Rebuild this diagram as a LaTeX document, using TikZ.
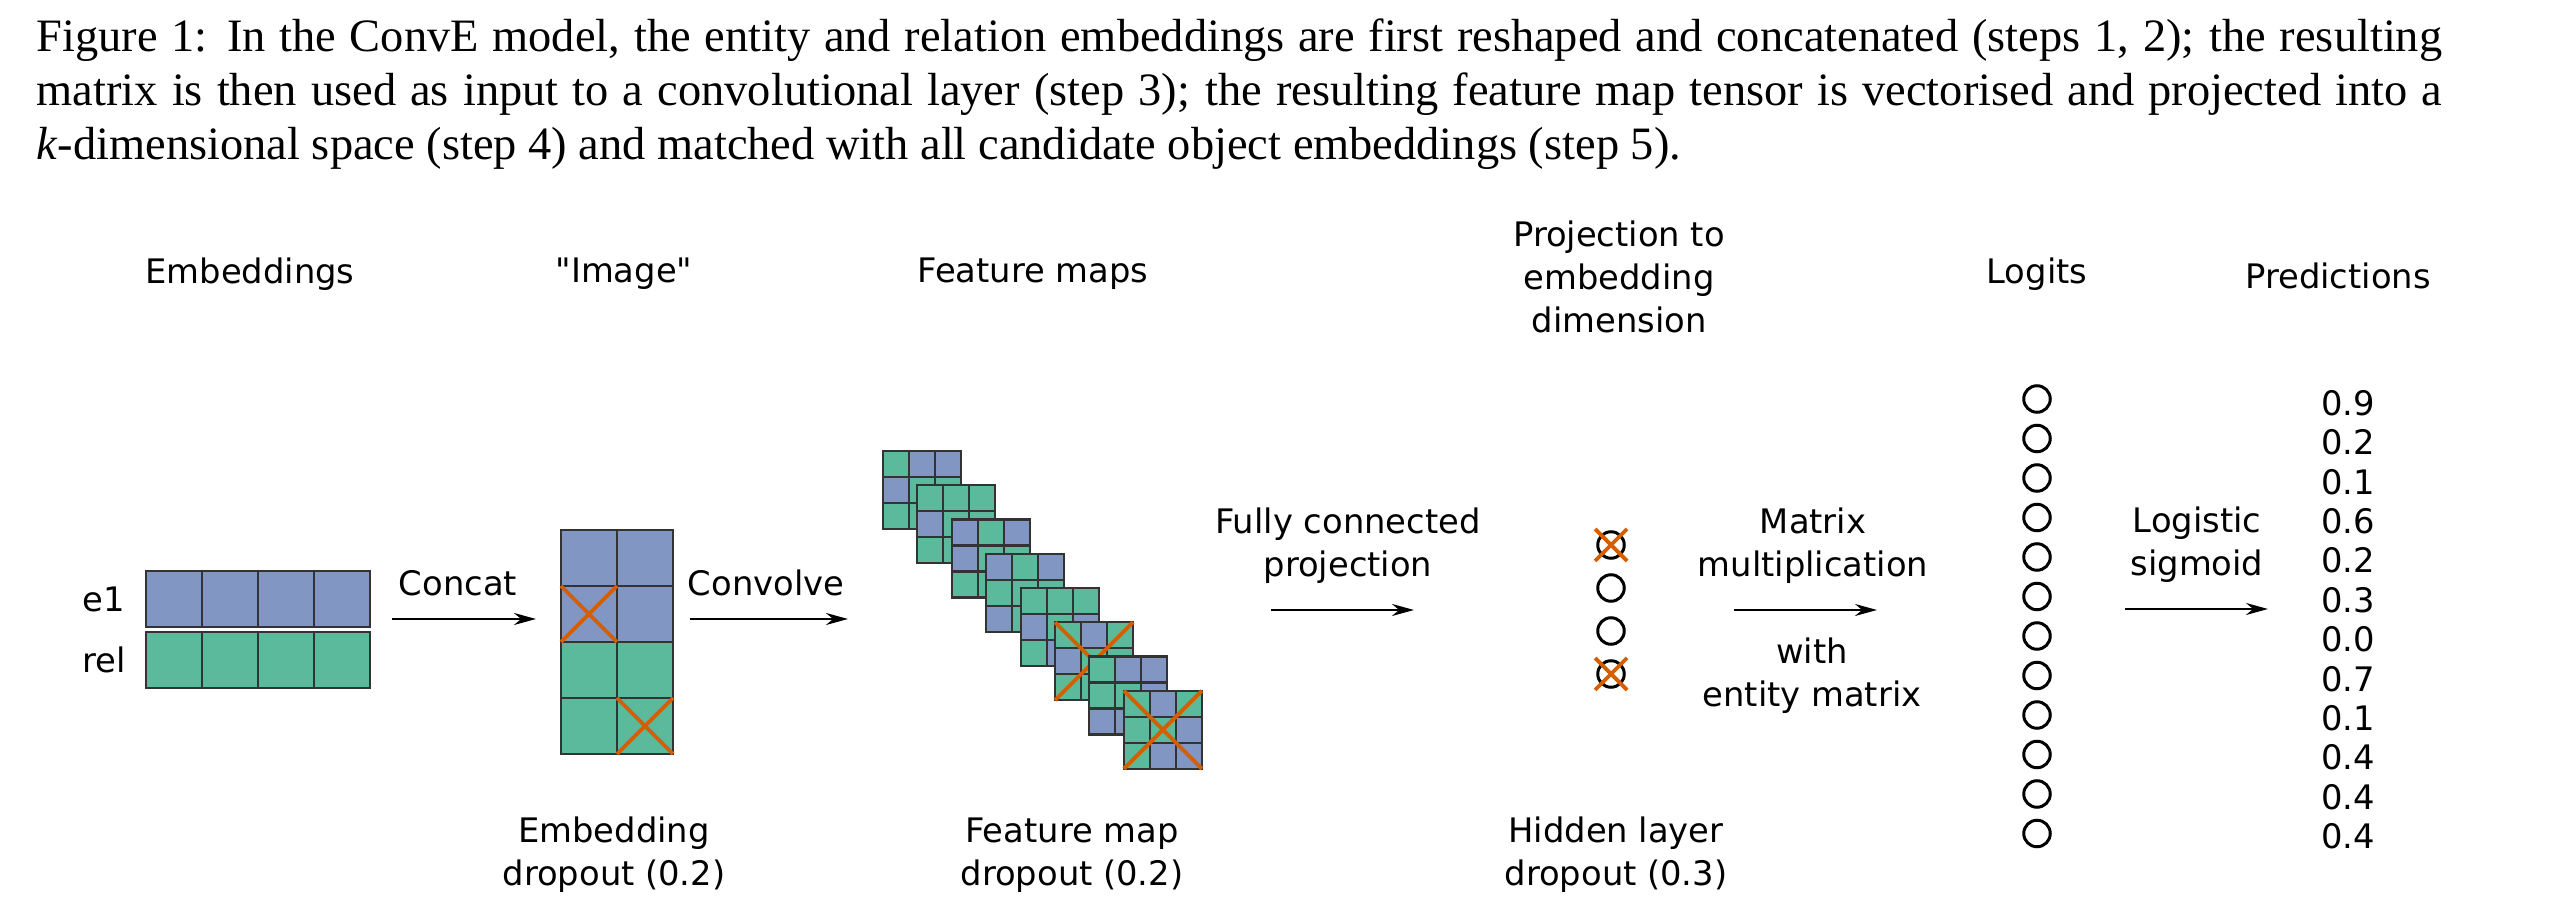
\documentclass[tikz,border=0pt]{standalone}
\usepackage{fontspec}
\setmainfont{DejaVu Sans}
\newfontfamily\capfont{Liberation Serif}
\usetikzlibrary{arrows.meta}

\definecolor{cb}{RGB}{130,150,195}
\definecolor{cg}{RGB}{90,186,155}
\definecolor{dropred}{RGB}{213,94,0}

% straight double quote, set as a glyph so no ligature mapping curls it
\newcommand\straightquote{\XeTeXglyph\XeTeXcharglyph"22\relax}

\tikzset{
  lbl/.style={font=\fontsize{9.6pt}{12.2pt}\selectfont, align=center, inner sep=0pt},
  capline/.style={anchor=base west, inner sep=0pt, font=\capfont\fontsize{13.2pt}{15.4pt}\selectfont},
  flow/.style={-{Stealth[length=0.22cm,width=0.12cm]}, line width=0.55pt},
  gridline/.style={draw=black!80, line width=0.6pt},
  drop/.style={draw=dropred, line width=1.1pt},
  unit/.style={circle, draw, line width=0.85pt, minimum size=0.265cm, inner sep=0pt},
}

% one row of a 3x3 feature map: #1 map index, #2 row index, #3 colours
\newcommand\fmrow[3]{%
  \foreach[count=\j from 0] \c in {#3}{%
    \filldraw[gridline, fill=\c] ({883+34.4*#1+26*\j},{451+34.25*#1+26*#2}) rectangle ++(26,26);}}
% dropout cross over a whole feature map
\newcommand\fmcross[1]{%
  \draw[drop] ({883+34.4*#1},{451+34.25*#1}) -- ++(78,78);
  \draw[drop] ({883+34.4*#1+78},{451+34.25*#1}) -- ++(-78,78);}

\begin{document}
\begin{tikzpicture}[x=0.01cm, y=-0.01cm]
\useasboundingbox (0,0) rectangle (2556,922);

% caption
\node[capline] (cap1) at (36,52) {\makebox[24.04cm][s]{Figure 1: In the ConvE model, the entity and relation embeddings are first reshaped and concatenated (steps 1, 2); the resulting}};
\node[capline] (cap2) at (36,106) {\makebox[24.04cm][s]{matrix is then used as input to a convolutional layer (step 3); the resulting feature map tensor is vectorised and projected into a}};
\node[capline] (cap3) at (36,160) {\textit{k}-dimensional space (step 4) and matched with all candidate object embeddings (step 5).};

% column headers
\node[lbl] (hEmb) at (250,274) {Embeddings};
\node[lbl] (hImg) at (624,274) {\straightquote Image\straightquote};
\node[lbl] (hFM) at (1033,274) {Feature maps};
\node[lbl] (hProj) at (1619,277) {Projection to\\embedding\\dimension};
\node[lbl] (hLog) at (2037,274) {Logits};
\node[lbl] (hPred) at (2338,276) {Predictions};

% embeddings
\node[lbl] (le1) at (104,599) {e1};
\node[lbl] (lrel) at (104,660) {rel};
\foreach \i in {0,...,3}{
  \filldraw[gridline, fill=cb] ({146+56*\i},571) rectangle ++(56,56);
  \filldraw[gridline, fill=cg] ({146+56*\i},632) rectangle ++(56,56);
}

% concat arrow
\node[lbl] (tConcat) at (458,583) {Concat};
\coordinate (a1s) at (392,619);
\coordinate (a1e) at (536,619);
\draw[flow] (a1s) -- (a1e);

% reshaped "image"
\foreach \r/\c in {0/cb,1/cb,2/cg,3/cg}{
  \foreach \j in {0,1}{
    \filldraw[gridline, fill=\c] ({561+56*\j},{530+56*\r}) rectangle ++(56,56);
  }
}
\draw[drop] (561,586) -- (617,642);
\draw[drop] (617,586) -- (561,642);
\draw[drop] (617,698) -- (673,754);
\draw[drop] (673,698) -- (617,754);

% convolve arrow
\node[lbl] (tConv) at (766,583) {Convolve};
\coordinate (a2s) at (690,619);
\coordinate (a2e) at (848,619);
\draw[flow] (a2s) -- (a2e);

% feature maps
\fmrow{0}{0}{cg,cb,cb}\fmrow{0}{1}{cb,cg,cg}\fmrow{0}{2}{cg,cg,cg}
\fmrow{1}{0}{cg,cg,cg}\fmrow{1}{1}{cb,cg,cg}\fmrow{1}{2}{cg,cg,cg}
\fmrow{2}{0}{cb,cg,cb}\fmrow{2}{1}{cb,cg,cg}\fmrow{2}{2}{cg,cg,cg}
\fmrow{3}{0}{cb,cg,cb}\fmrow{3}{1}{cg,cg,cg}\fmrow{3}{2}{cb,cg,cg}
\fmrow{4}{0}{cg,cg,cg}\fmrow{4}{1}{cb,cg,cb}\fmrow{4}{2}{cg,cb,cb}
\fmrow{5}{0}{cg,cb,cg}\fmrow{5}{1}{cb,cg,cg}\fmrow{5}{2}{cg,cg,cg}
\fmcross{5}
\fmrow{6}{0}{cg,cb,cb}\fmrow{6}{1}{cg,cg,cb}\fmrow{6}{2}{cb,cb,cb}
\fmrow{7}{0}{cg,cb,cg}\fmrow{7}{1}{cg,cg,cb}\fmrow{7}{2}{cg,cb,cb}
\fmcross{7}

% fully connected projection
\node[lbl] (tFC) at (1348,546) {Fully connected\\projection};
\coordinate (a3s) at (1271,610);
\coordinate (a3e) at (1414,610);
\draw[flow] (a3s) -- (a3e);

% hidden layer
\foreach \i/\y in {1/545,2/588,3/631,4/674}{
  \node[unit] (h\i) at (1611,\y) {};
}
\foreach \i in {1,4}{
  \draw[drop] ([shift={(-16,-16)}]h\i.center) -- ([shift={(16,16)}]h\i.center);
  \draw[drop] ([shift={(16,-16)}]h\i.center) -- ([shift={(-16,16)}]h\i.center);
}

% matrix multiplication
\node[lbl] (tMM) at (1813,546) {Matrix\\multiplication};
\node[lbl] (tWith) at (1812,676) {with\\entity matrix};
\coordinate (a4s) at (1734,610);
\coordinate (a4e) at (1877,610);
\draw[flow] (a4s) -- (a4e);

% logits
\foreach \i in {0,...,11}{
  \node[unit] (lg\i) at (2037,{399+39.5*\i}) {};
}

% sigmoid
\node[lbl] (tSig) at (2197,545) {Logistic\\sigmoid};
\coordinate (a5s) at (2125,609);
\coordinate (a5e) at (2268,609);
\draw[flow] (a5s) -- (a5e);

% predictions
\foreach \v [count=\i from 0] in {0.9,0.2,0.1,0.6,0.2,0.3,0.0,0.7,0.1,0.4,0.4,0.4}{
  \node[lbl] (p\i) at (2348,{403+39.4*\i}) {\v};
}

% dropout labels
\node[lbl] (dEmb) at (614,855) {Embedding\\dropout (0.2)};
\node[lbl] (dFM) at (1072,855) {Feature map\\dropout (0.2)};
\node[lbl] (dHid) at (1616,855) {Hidden layer\\dropout (0.3)};
\end{tikzpicture}
\end{document}
